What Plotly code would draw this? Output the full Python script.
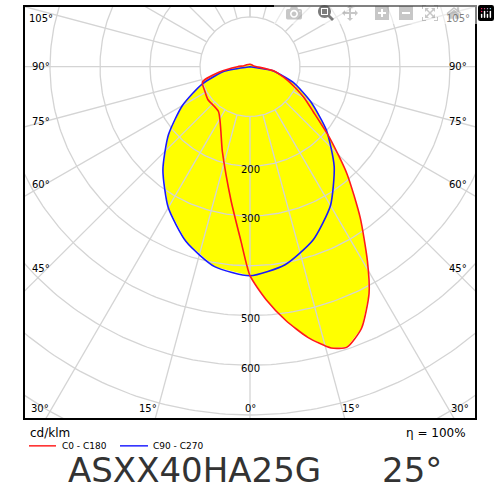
import numpy as np
import plotly.graph_objects as go

# luminous intensity (cd/klm) against gamma angle, C0 side positive / C180 side negative
c0_gamma = [-180, -120, -100, -90, -80, -72, -61, -52, -35, -18, -8, -3, 0, 4, 8, 12, 16, 19, 23, 27.6, 31, 36, 42, 48, 54.5, 60, 65, 70, 75, 80, 90, 100, 120, 180]
c0_cd = [5, 8, 12, 25, 62, 100, 103, 107, 110, 179, 272, 350, 420, 470, 515, 556, 588, 596, 571, 514, 456, 375, 290, 215, 155, 125, 100, 80, 62, 48, 14, 8, 6, 5]
c90_gamma = [-180, -90, -80, -70, -60, -50, -40, -30, -20, -10, 0, 10, 20, 30, 40, 50, 60, 70, 80, 90, 180]
c90_cd = [0, 0, 51, 102, 156, 213, 271, 327, 374, 408, 420, 404, 370, 322, 262, 200, 140, 92, 45, 0, 0]
ring_values = [100, 200, 300, 400, 500, 600, 700, 800, 900, 1000]
ring_labels = [200, 300, 500, 600]
grid_angles = list(range(-180, 181, 15))


def to_xy(gamma, r):
    g = np.radians(np.asarray(gamma, dtype=float))
    r = np.asarray(r, dtype=float)
    return r * np.sin(g), -r * np.cos(g)


GRID = "#d4d4d4"
fig = go.Figure()

# yellow fills first
for g, r in [(c0_gamma, c0_cd), (c90_gamma, c90_cd)]:
    x, y = to_xy(g, r)
    fig.add_trace(go.Scatter(x=x, y=y, fill="toself", fillcolor="#ffff00",
                             mode="none", hoverinfo="skip"))

# grid on top of the fill
t = np.linspace(-180, 180, 361)
for rv in ring_values:
    x, y = to_xy(t, [rv] * len(t))
    fig.add_trace(go.Scatter(x=x, y=y, mode="lines", line=dict(color=GRID, width=1.3), hoverinfo="skip"))
for a in grid_angles:
    x, y = to_xy([a, a], [100, 1200])
    fig.add_trace(go.Scatter(x=x, y=y, mode="lines", line=dict(color=GRID, width=1.3), hoverinfo="skip"))

# curves
for g, r, col in [(c90_gamma, c90_cd, "#1a1aff"), (c0_gamma, c0_cd, "#ff1a1a")]:
    x, y = to_xy(g, r)
    fig.add_trace(go.Scatter(x=x, y=y, mode="lines",
                             line=dict(color=col, width=1.6, shape="spline", smoothing=0.6),
                             hoverinfo="skip"))

ann = []
for v in ring_labels:
    ann.append(dict(x=0, y=-v - 6, text=str(v), showarrow=False, font=dict(size=10)))
side_labels = [("105°", 96), ("90°", 0), ("75°", -110), ("60°", -236), ("45°", -406)]
for txt, yy in side_labels:
    ann.append(dict(x=-418, y=yy, text=txt, showarrow=False, font=dict(size=10)))
    ann.append(dict(x=416, y=yy, text=txt, showarrow=False, font=dict(size=10)))
for txt, xx in [("30°", -420), ("15°", -204), ("0°", 0), ("15°", 202), ("30°", 420)]:
    ann.append(dict(x=xx, y=-686, text=txt, showarrow=False, font=dict(size=10)))


def px(xp, yp):
    return (xp - 25) / 450, (418 - yp) / 413


for txt, xp, yp, size, anchor in [
    ("cd/klm", 28, 433, 12, "left"),
    ("C0 - C180", 60, 446, 9, "left"),
    ("C90 - C270", 151, 446, 9, "left"),
    ("η = 100%", 468, 433, 12, "right"),
    ("ASXX40HA25G", 66, 470, 34, "left"),
    ("25°", 380, 470, 34, "left"),
]:
    xx, yy = px(xp, yp)
    ann.append(dict(x=xx, y=yy, xref="paper", yref="paper", text=txt, showarrow=False,
                    xanchor=anchor, yanchor="middle",
                    font=dict(size=size, color="#333" if size > 30 else "black")))

shapes = []
for x0, x1, col in [(29, 56, "red"), (120, 148, "blue")]:
    a, b = px(x0, 446)
    c, _ = px(x1, 446)
    shapes.append(dict(type="line", xref="paper", yref="paper", x0=a, x1=c, y0=b, y1=b,
                       line=dict(color=col, width=1.3)))

fig.update_layout(
    width=500, height=500, showlegend=False,
    plot_bgcolor="white", paper_bgcolor="white",
    font=dict(family="DejaVu Sans", size=10, color="black"),
    margin=dict(l=25, r=25, t=5, b=82),
    xaxis=dict(range=[-450, 450], showgrid=False, zeroline=False, showticklabels=False,
               ticks="", showline=True, mirror=True, linecolor="black", linewidth=1.5),
    yaxis=dict(range=[-706, 120], showgrid=False, zeroline=False, showticklabels=False,
               ticks="", showline=True, mirror=True, linecolor="black", linewidth=1.5),
    annotations=ann, shapes=shapes,
)
fig.write_html("out.html", post_script="document.body.style.margin='0';")
